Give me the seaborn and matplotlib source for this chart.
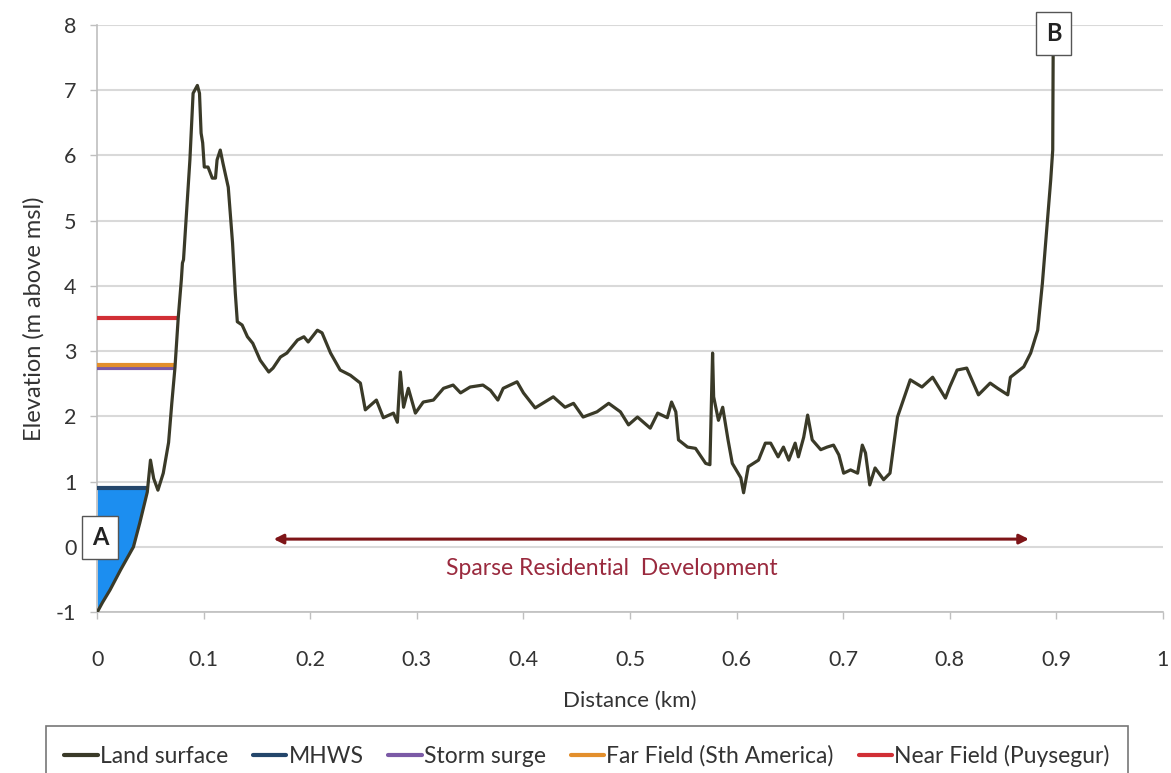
import numpy as np
import matplotlib
matplotlib.use("Agg")
import matplotlib.pyplot as plt
from matplotlib.lines import Line2D
import seaborn as sns

# ─────────────────────────────────────────────
# DATA
# ─────────────────────────────────────────────
distance_km = [
    0.000, 0.005, 0.012, 0.022, 0.034, 0.040, 0.047, 0.050, 0.053, 0.057,
    0.062, 0.067, 0.070, 0.073, 0.076, 0.079, 0.080, 0.081, 0.084, 0.087,
    0.090, 0.094, 0.096, 0.0975, 0.099, 0.1005, 0.104, 0.108, 0.111, 0.1125,
    0.1155, 0.118, 0.123, 0.127, 0.1296, 0.1315, 0.136, 0.141, 0.146, 0.153,
    0.161, 0.165, 0.172, 0.178, 0.188, 0.194, 0.198, 0.2066, 0.211, 0.219,
    0.228, 0.2376, 0.247, 0.2516, 0.262, 0.2685, 0.278, 0.2817, 0.2845, 0.2875,
    0.292, 0.2986, 0.306, 0.3155, 0.325, 0.334, 0.341, 0.350, 0.362, 0.369,
    0.376, 0.381, 0.394, 0.400, 0.411, 0.418, 0.428, 0.439, 0.447, 0.456,
    0.469, 0.480, 0.491, 0.4986, 0.507, 0.519, 0.526, 0.535, 0.539, 0.543,
    0.5455, 0.554, 0.5615, 0.571, 0.575, 0.5775, 0.5785, 0.583, 0.587, 0.592,
    0.596, 0.604, 0.6066, 0.611, 0.6206, 0.627, 0.632, 0.639, 0.644, 0.649,
    0.655, 0.658, 0.663, 0.6667, 0.671, 0.679, 0.685, 0.691, 0.696, 0.7005,
    0.707, 0.7136, 0.718, 0.721, 0.725, 0.730, 0.738, 0.744, 0.751, 0.763,
    0.774, 0.784, 0.796, 0.800, 0.807, 0.816, 0.827, 0.838, 0.845, 0.8545,
    0.857, 0.8695, 0.876, 0.8826, 0.887, 0.892, 0.8948, 0.8967, 0.8972,
]
elevation_m = [
    -1.00, -0.85, -0.66, -0.35, 0.00, 0.37, 0.84, 1.33, 1.05, 0.87,
    1.13, 1.60, 2.20, 2.75, 3.50, 4.10, 4.35, 4.40, 5.16, 5.93,
    6.95, 7.07, 6.95, 6.34, 6.19, 5.82, 5.82, 5.65, 5.65, 5.93,
    6.08, 5.88, 5.51, 4.66, 3.89, 3.45, 3.40, 3.22, 3.12, 2.86,
    2.68, 2.74, 2.91, 2.97, 3.17, 3.22, 3.14, 3.32, 3.28, 2.97,
    2.71, 2.63, 2.51, 2.10, 2.25, 1.98, 2.05, 1.91, 2.68, 2.14,
    2.43, 2.05, 2.22, 2.25, 2.43, 2.48, 2.36, 2.45, 2.48, 2.40,
    2.25, 2.43, 2.53, 2.36, 2.13, 2.20, 2.30, 2.14, 2.20, 1.99,
    2.07, 2.20, 2.07, 1.87, 1.99, 1.82, 2.05, 1.98, 2.22, 2.07,
    1.64, 1.53, 1.51, 1.28, 1.26, 2.97, 2.30, 1.94, 2.14, 1.64,
    1.28, 1.06, 0.83, 1.23, 1.33, 1.59, 1.59, 1.38, 1.53, 1.33,
    1.59, 1.38, 1.68, 2.02, 1.64, 1.49, 1.53, 1.56, 1.41, 1.13,
    1.18, 1.13, 1.56, 1.44, 0.95, 1.21, 1.03, 1.13, 1.99, 2.56,
    2.45, 2.60, 2.28, 2.45, 2.71, 2.74, 2.33, 2.51, 2.43, 2.33,
    2.60, 2.76, 2.97, 3.32, 4.04, 5.05, 5.62, 6.08, 7.90,
]

# water levels: elevation and where each line meets the land surface
level_names = ['MHWS', 'Storm surge', 'Far Field (Sth America)', 'Near Field (Puysegur)']
level_elev = [0.90, 2.74, 2.78, 3.51]
level_end_km = [0.047, 0.0725, 0.0725, 0.077]

arrow_km = [0.163, 0.877]
arrow_elev = 0.12

# ─────────────────────────────────────────────
# STYLE
# ─────────────────────────────────────────────
sns.set_theme(style="white")
plt.rcParams['font.family'] = ['Lato', 'DejaVu Sans']
plt.rcParams['axes.unicode_minus'] = False

LAND = '#3a3a28'
COLORS = {'MHWS': '#24466b', 'Storm surge': '#7b5aa6',
          'Far Field (Sth America)': '#e38f2c', 'Near Field (Puysegur)': '#d12f35'}
TXT = '#333333'

fig = plt.figure(figsize=(11.71, 7.73), dpi=100)
ax = fig.add_axes([0.083, 0.208, 0.910, 0.760])

x = np.array(distance_km)
y = np.array(elevation_m)

# MHWS water body fill
ax.fill_between(x, y, level_elev[0], where=(x <= level_end_km[0] + 0.001) & (y <= level_elev[0] + 0.1),
                interpolate=True, color='#1c8ef0', zorder=2, linewidth=0)

sns.lineplot(x=x, y=y, ax=ax, color=LAND, linewidth=2.3, estimator=None, sort=False, zorder=4)

for name, lev, end in zip(level_names, level_elev, level_end_km):
    ax.hlines(lev, 0, end, color=COLORS[name], linewidth=3, zorder=3)

# annotation arrow + label
ax.annotate('', xy=(arrow_km[0], arrow_elev), xytext=(arrow_km[1], arrow_elev),
            arrowprops=dict(arrowstyle='<|-|>', color='#7e1518', lw=2.2, mutation_scale=14), zorder=5)
ax.text(0.483, -0.33, 'Sparse Residential  Development', ha='center', va='center',
        fontsize=16.5, color='#9a2a3e')

box = dict(boxstyle='square,pad=0.42', facecolor='white', edgecolor='#555555', linewidth=1)
ax.text(0.003, 0.14, 'A', ha='center', va='center', fontsize=17, fontweight='bold',
        bbox=box, zorder=6, clip_on=False, color='#222222')
ax.text(0.8977, 7.86, 'B', ha='center', va='center', fontsize=17, fontweight='bold',
        bbox=box, zorder=6, clip_on=False, color='#222222')

# axes
ax.set_xlim(0, 1)
ax.set_ylim(-1, 8)
ax.set_xticks(np.arange(0, 1.01, 0.1))
ax.set_xticklabels(['0', '0.1', '0.2', '0.3', '0.4', '0.5', '0.6', '0.7', '0.8', '0.9', '1'])
ax.set_yticks(range(-1, 9))
ax.yaxis.grid(True, color='#d9d9d9', linewidth=1.5)
ax.xaxis.grid(False)
for s in ['top', 'right']:
    ax.spines[s].set_visible(False)
for s in ['left', 'bottom']:
    ax.spines[s].set_color('#bfbfbf')
    ax.spines[s].set_linewidth(1.2)
ax.tick_params(axis='both', labelsize=15.5, colors=TXT, length=5, width=1, direction='out')
ax.tick_params(axis='x', pad=22, color='#bfbfbf', bottom=True)
ax.tick_params(axis='y', pad=10, color='#bfbfbf', left=True)
ax.set_xlabel('Distance (km)', fontsize=16, color=TXT, labelpad=15)
ax.set_ylabel('Elevation (m above msl)', fontsize=17, color=TXT, labelpad=8)

# legend below
handles = [Line2D([], [], color=LAND, lw=3, label='Land surface')]
handles += [Line2D([], [], color=COLORS[n], lw=3, label=n) for n in level_names]
leg = fig.legend(handles=handles, loc='upper left', ncol=5, mode='expand',
                 bbox_to_anchor=(46 / 1171, 1 - 734 / 773, (1128 - 46) / 1171, 0.01),
                 frameon=True, fancybox=False, edgecolor='#555555', fontsize=16.5,
                 handlelength=1.45, handletextpad=0.1, borderpad=0.8, borderaxespad=0)
leg.get_frame().set_linewidth(1.2)
for t in leg.get_texts():
    t.set_color(TXT)

plt.savefig('out.png', dpi=100)
plt.close()
